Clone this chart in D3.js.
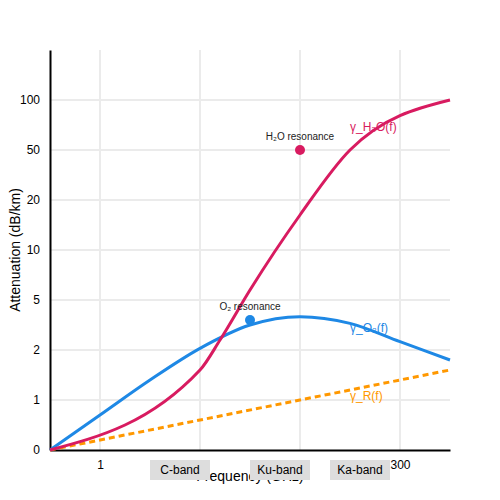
<!DOCTYPE html><html><head><meta charset="utf-8"><script src="https://cdn.jsdelivr.net/npm/d3@7"></script>
<style>body{margin:0;background:#fff}text{font-family:"Liberation Sans",Arial,sans-serif}</style></head><body><svg width="500" height="500"></svg>
<script>
const xTicks=[0.5,1.5,2.5,3.5];
const xTickLabels=["1","10","60","300"];
const yTicks=[0,1,2,5,10,20,50,100];
const h2oX=[0,1.5,1.7,2.0,2.5,3.0,4.0];
const h2oY=[0,1.6,2.6,6,17,50,100];
const o2X=[0,0.5,1,1.5,2,2.5,3,3.5,4];
const o2Y=[0,0.7,1.4,2.1,3.5,4.0,3.6,2.5,1.8];
const rX=[0,4];
const rY=[0,1.6];
const resonances=[{name:"H₂O resonance",x:2.5,y:50,c:"#d81b60"},{name:"O₂ resonance",x:2.0,y:3.8,c:"#1e88e5"}];
const bands=[{name:"C-band",x:1.0},{name:"Ku-band",x:2.0},{name:"Ka-band",x:2.8}];

const svg=d3.select("svg");
const x=d3.scaleLinear().domain([0,4]).range([50,450]);
const y=d3.scaleLinear().domain([0,1,2,5,10,20,50,100,200]).range([450,400,350,300,250,200,150,100,50]);
const g=svg.append("g");
g.selectAll(".vg").data(xTicks).join("line").attr("x1",d=>x(d)).attr("x2",d=>x(d)).attr("y1",50).attr("y2",450).attr("stroke","#ebebeb").attr("stroke-width",2);
g.selectAll(".hg").data(yTicks.slice(1)).join("line").attr("x1",50).attr("x2",450).attr("y1",d=>y(d)).attr("y2",d=>y(d)).attr("stroke","#ebebeb").attr("stroke-width",2);
const yAx=svg.append("g").attr("transform","translate(50,0)").call(d3.axisLeft(y).tickValues(yTicks).tickSize(0).tickPadding(10).tickFormat(d3.format("d")));
yAx.select(".domain").attr("stroke","#000").attr("stroke-width",2);
yAx.selectAll("text").attr("font-size",12).attr("fill","#000");
const xAx=svg.append("g").attr("transform","translate(0,450)").call(d3.axisBottom(x).tickValues(xTicks).tickSize(0).tickPadding(10).tickFormat((d,i)=>xTickLabels[i]));
xAx.select(".domain").attr("stroke","#000").attr("stroke-width",2);
xAx.selectAll("text").attr("font-size",12).attr("fill","#000");
svg.append("text").attr("transform","translate(20,250) rotate(-90)").attr("text-anchor","middle").attr("font-size",14).text("Attenuation (dB/km)");
svg.append("text").attr("x",250).attr("y",481).attr("text-anchor","middle").attr("font-size",14).text("Frequency (GHz)");
const mk=()=>d3.line().x(d=>x(d[0])).y(d=>y(d[1]));
svg.append("path").attr("d",mk()(rX.map((v,i)=>[v,rY[i]]))).attr("fill","none").attr("stroke","#ff9800").attr("stroke-width",3).attr("stroke-dasharray","6,4");
svg.append("path").attr("d",mk().curve(d3.curveMonotoneX)(o2X.map((v,i)=>[v,o2Y[i]]))).attr("fill","none").attr("stroke","#1e88e5").attr("stroke-width",3);
svg.append("path").attr("d",mk().curve(d3.curveMonotoneX)(h2oX.map((v,i)=>[v,h2oY[i]]))).attr("fill","none").attr("stroke","#d81b60").attr("stroke-width",3);
resonances.forEach(r=>{svg.append("circle").attr("cx",x(r.x)).attr("cy",y(r.y)).attr("r",5).attr("fill",r.c);
svg.append("text").attr("x",x(r.x)).attr("y",y(r.y)-10).attr("text-anchor","middle").attr("font-size",10).attr("fill","#222").text(r.name);});
[["γ_H₂O(f)",3.0,69,"#d81b60"],["γ_O₂(f)",3.0,3.1,"#1e88e5"],["γ_R(f)",3.0,1.0,"#ff9800"]].forEach(l=>svg.append("text").attr("x",x(l[1])).attr("y",y(l[2])).attr("font-size",12).attr("fill",l[3]).text(l[0]));
bands.forEach(b=>{svg.append("rect").attr("x",x(b.x)).attr("y",460).attr("width",60).attr("height",20).attr("fill","#dddddd");
svg.append("text").attr("x",x(b.x)+30).attr("y",474).attr("text-anchor","middle").attr("font-size",12).attr("fill","#000").text(b.name);});
</script></body></html>
